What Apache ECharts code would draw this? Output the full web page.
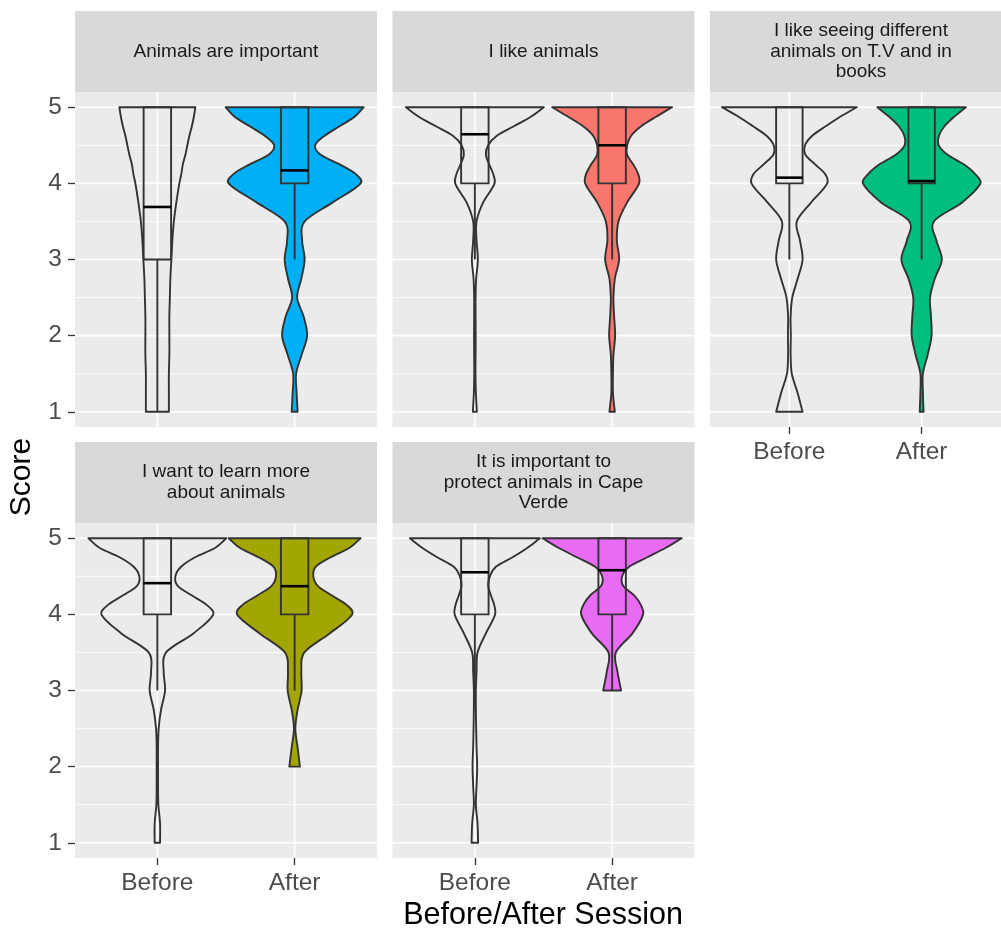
<!DOCTYPE html>
<html><head><meta charset="utf-8">
<script src="https://cdn.jsdelivr.net/npm/echarts@6/dist/echarts.min.js"></script>
<style>html,body{margin:0;padding:0;background:#fff}#c{width:1001px;height:931px}</style>
</head><body><div id="c"></div>
<script>
// ---------------- data ----------------
const categories = ['Before', 'After'];
const panelTitles = [
  'Animals are important',
  'I like animals',
  'I like seeing different\nanimals on T.V and in\nbooks',
  'I want to learn more\nabout animals',
  'It is important to\nprotect animals in Cape\nVerde'
];
const afterColors = ['#00B0F6', '#F8766D', '#00BF7D', '#A3A500', '#E76BF3'];
const yTicks = [1, 2, 3, 4, 5];
const yMinorGrid = [1.5, 2.5, 3.5, 4.5];

// score levels at which the violin density (half-width) was read
const scoreLevels = [1, 1.25, 1.5, 1.75, 2, 2.25, 2.5, 2.75, 3, 3.25, 3.5, 3.75, 4, 4.125, 4.25, 4.375, 4.5, 4.625, 4.75, 4.875, 5];

// violin densities (relative units) per level, null = outside data range
const densImportantBefore = [11.5, 11.5, 11.5, 12, 12, 12, 12.5, 13, 14, 15, 16.5, 19, 22, 24, 25.5, 28, 30, 32, 34.5, 36.5, 38];
const densImportantAfter  = [3, 2, 1.5, 7, 12.5, 9, 2.5, 6.7, 10, 7.5, 10, 38, 66, 61, 45, 26, 20.5, 30, 45, 60, 69];
const densLikeBefore      = [2, 1, 0.6, 0.7, 0.8, 0.7, 0.7, 1.3, 3, 1.7, 1.7, 8.3, 19.7, 18.3, 14.3, 11, 13.3, 22, 39, 56, 69];
const densLikeAfter       = [2.7, 0.8, 0.8, 1.3, 3, 2, 1.3, 2.7, 7, 4.7, 6.3, 15, 27, 26, 21, 15, 15, 19, 29, 44, 60];
const densSeeingBefore    = [13.7, 8.5, 2.5, 1.3, 1.5, 1.3, 3, 8.7, 13.7, 11, 7.7, 22.7, 39.3, 37, 26.7, 16.7, 16.3, 23.7, 37.7, 52.7, 70];
const densSeeingAfter     = [2, 1.3, 1.3, 6.3, 10.3, 9.7, 8.7, 13.7, 21, 15.3, 12.7, 42, 61, 55.3, 43.7, 27, 17.7, 18, 23.7, 33.7, 46];
const densLearnBefore     = [2.7, 2.7, 1, 0.7, 0.7, 0.7, 1.3, 3.7, 7.7, 6.3, 8.7, 36, 56, 49.3, 34.3, 20.3, 18, 23.7, 37.7, 58, 69];
const densLearnAfter      = [null, null, null, null, 5.3, 3, 0.7, 3, 7, 6.7, 9.7, 35, 57.7, 52, 37, 23, 18.7, 21, 36, 55, 66];
const densProtectBefore   = [3.3, 2.7, 1, 1.7, 2.3, 1.7, 1.3, 1, 1, 1.7, 2.7, 11, 20.3, 19.3, 16, 13.3, 15, 21, 37.7, 52.7, 65];
const densProtectAfter    = [null, null, null, null, null, null, null, null, 9, 5.3, 3.7, 20.3, 31, 28.7, 22, 11, 10, 17, 35.3, 53.7, 69.7];

const violinDensity = [
  [densImportantBefore, densImportantAfter],
  [densLikeBefore, densLikeAfter],
  [densSeeingBefore, densSeeingAfter],
  [densLearnBefore, densLearnAfter],
  [densProtectBefore, densProtectAfter]
];

// boxplot statistics [Before, After] per panel
const whiskerLow  = [[1, 3], [3, 3], [3, 3], [3, 3], [3, 3]];
const boxLower    = [[3, 4], [4, 4], [4, 4], [4, 4], [4, 4]];
const boxUpper    = [[5, 5], [5, 5], [5, 5], [5, 5], [5, 5]];
const whiskerHigh = [[5, 5], [5, 5], [5, 5], [5, 5], [5, 5]];
const meanScore   = [[3.69, 4.17], [4.645, 4.5], [4.075, 4.03], [4.41, 4.37], [4.553, 4.58]];

// ---------------- layout / style ----------------
const FONT = '"Liberation Sans", Arial, Helvetica, sans-serif';
const PANEL_W = 302, PANEL_H = 335, STRIP_H = 81;
const panelPos = [
  { left: 75, top: 92 }, { left: 392.5, top: 92 }, { left: 710, top: 92 },
  { left: 75, top: 523 }, { left: 392.5, top: 523 }
];
const showYAxis = [true, false, false, true, false];
const showXAxis = [false, false, true, true, true];
const DENS_TO_X = 1 / 137.3;   // violin width scaling
const BOX_HALF = 0.1;
const OUTLINE = '#333333';
const LW = 1.9;

const xPositions = categories.map((c, i) => i + 1);

function hermitePath(pts, ts, start) {
  let d = (start ? 'M' : 'L') + pts[0][0].toFixed(2) + ',' + pts[0][1].toFixed(2);
  const n = pts.length;
  const tan = pts.map((p, i) => {
    const a = i > 0 ? i - 1 : i, b = i < n - 1 ? i + 1 : i;
    const dt = ts[b] - ts[a] || 1;
    return [(pts[b][0] - pts[a][0]) / dt, (pts[b][1] - pts[a][1]) / dt];
  });
  for (let i = 0; i < n - 1; i++) {
    const h = ts[i + 1] - ts[i];
    const c1 = [pts[i][0] + tan[i][0] * h / 3, pts[i][1] + tan[i][1] * h / 3];
    const c2 = [pts[i + 1][0] - tan[i + 1][0] * h / 3, pts[i + 1][1] - tan[i + 1][1] * h / 3];
    d += ' C' + c1[0].toFixed(2) + ',' + c1[1].toFixed(2) + ' ' + c2[0].toFixed(2) + ',' + c2[1].toFixed(2) + ' ' + pts[i + 1][0].toFixed(2) + ',' + pts[i + 1][1].toFixed(2);
  }
  return d;
}

function makeViolinRender(p) {
  return function (params, api) {
    const g = params.dataIndex;
    const xc = api.value(0);
    const dens = violinDensity[p][g];
    const levels = [], right = [], left = [];
    scoreLevels.forEach((s, i) => {
      if (dens[i] == null) return;
      const hw = dens[i] * DENS_TO_X;
      levels.push(s);
      right.push(api.coord([xc + hw, s]));
      left.push(api.coord([xc - hw, s]));
    });
    let d = hermitePath(right, levels, true);
    d += ' ' + hermitePath(left.slice().reverse(), levels.slice().reverse(), false) + ' Z';
    const fill = g === 0 ? 'rgba(0,0,0,0)' : afterColors[p];
    const wl = api.value(1), q1 = api.value(2), mean = api.value(3), q3 = api.value(4), wh = api.value(5);
    const bTL = api.coord([xc - BOX_HALF, q3]);
    const bBR = api.coord([xc + BOX_HALF, q1]);
    const cLow = api.coord([xc, wl]);
    const cQ1 = api.coord([xc, q1]);
    const cQ3 = api.coord([xc, q3]);
    const cHigh = api.coord([xc, wh]);
    const mL = api.coord([xc - BOX_HALF, mean]);
    const mR = api.coord([xc + BOX_HALF, mean]);
    const children = [
      { type: 'path', shape: { pathData: d }, style: { fill: fill, stroke: OUTLINE, lineWidth: LW, lineJoin: 'round' } },
      { type: 'line', shape: { x1: cLow[0], y1: cLow[1], x2: cQ1[0], y2: cQ1[1] }, style: { stroke: OUTLINE, lineWidth: LW } },
      { type: 'line', shape: { x1: cQ3[0], y1: cQ3[1], x2: cHigh[0], y2: cHigh[1] }, style: { stroke: OUTLINE, lineWidth: LW } },
      { type: 'rect', shape: { x: bTL[0], y: bTL[1], width: bBR[0] - bTL[0], height: bBR[1] - bTL[1] }, style: { fill: 'rgba(0,0,0,0)', stroke: OUTLINE, lineWidth: LW } },
      { type: 'line', shape: { x1: mL[0], y1: mL[1], x2: mR[0], y2: mR[1] }, style: { stroke: '#000000', lineWidth: 2.6 } }
    ];
    return { type: 'group', children: children };
  };
}

const gridSpecs = [
  ...yTicks.map(v => ({ dir: 'h', v: v, w: 1.6 })),
  ...yMinorGrid.map(v => ({ dir: 'h', v: v, w: 0.8 })),
  ...xPositions.map(v => ({ dir: 'v', v: v, w: 1.6 }))
];
function gridRender(params, api) {
  const s = gridSpecs[params.dataIndex];
  const cs = params.coordSys;
  if (s.dir === 'h') {
    const y = api.coord([1.5, s.v])[1];
    return { type: 'line', shape: { x1: cs.x, y1: y, x2: cs.x + cs.width, y2: y }, style: { stroke: '#FFFFFF', lineWidth: s.w } };
  }
  const x = api.coord([s.v, 3])[0];
  return { type: 'line', shape: { x1: x, y1: cs.y, x2: x, y2: cs.y + cs.height }, style: { stroke: '#FFFFFF', lineWidth: s.w } };
}

const grids = [], xAxes = [], yAxes = [], series = [], graphics = [];
panelPos.forEach((pp, p) => {
  grids.push({ left: pp.left, top: pp.top, width: PANEL_W, height: PANEL_H, show: true, backgroundColor: '#EBEBEB', borderWidth: 0, containLabel: false });
  xAxes.push({
    gridIndex: p, type: 'value', min: 0.4, max: 2.6,
    axisLine: { show: false }, splitLine: { show: false },
    axisTick: { show: showXAxis[p], customValues: xPositions, length: 7, lineStyle: { color: OUTLINE, width: 1.3 } },
    axisLabel: { show: showXAxis[p], customValues: xPositions, formatter: v => categories[Math.round(v) - 1] || '', color: '#4D4D4D', fontSize: 24.5, fontFamily: FONT, margin: 13 }
  });
  yAxes.push({
    gridIndex: p, type: 'value', min: 0.8, max: 5.2,
    axisLine: { show: false }, splitLine: { show: false },
    axisTick: { show: showYAxis[p], customValues: yTicks, length: 7, lineStyle: { color: OUTLINE, width: 1.3 } },
    axisLabel: { show: showYAxis[p], customValues: yTicks, color: '#4D4D4D', fontSize: 24.5, fontFamily: FONT, margin: 13 }
  });
  series.push({
    type: 'custom', xAxisIndex: p, yAxisIndex: p, z: 1, silent: true,
    renderItem: gridRender,
    data: gridSpecs.map(s => s.dir === 'h' ? [1.5, s.v] : [s.v, 3]),
    encode: { x: 0, y: 1 }
  });
  series.push({
    type: 'custom', xAxisIndex: p, yAxisIndex: p, z: 3, silent: true,
    renderItem: makeViolinRender(p),
    data: categories.map((c, i) => [xPositions[i], whiskerLow[p][i], boxLower[p][i], meanScore[p][i], boxUpper[p][i], whiskerHigh[p][i]]),
    encode: { x: 0, y: [1, 2, 3, 4, 5] }
  });
  graphics.push({
    type: 'rect', left: pp.left, top: pp.top - STRIP_H, z: 5,
    shape: { width: PANEL_W, height: STRIP_H }, style: { fill: '#D9D9D9' }, silent: true
  });
  graphics.push({
    type: 'text', x: pp.left + PANEL_W / 2, y: pp.top - STRIP_H / 2, z: 6, silent: true,
    style: { text: panelTitles[p], fill: '#1A1A1A', font: '19px ' + FONT, align: 'center', verticalAlign: 'middle', lineHeight: 20.5 }
  });
});

graphics.push({
  type: 'text', x: 22, y: 477, rotation: Math.PI / 2, z: 6, silent: true,
  style: { text: 'Score', fill: '#000000', font: '30px ' + FONT, align: 'center', verticalAlign: 'middle' }
});
graphics.push({
  type: 'text', x: 543, y: 916, z: 6, silent: true,
  style: { text: 'Before/After Session', fill: '#000000', font: '30.5px ' + FONT, align: 'center', verticalAlign: 'middle' }
});

const chart = echarts.init(document.getElementById('c'), null, { renderer: 'canvas' });
chart.setOption({
  animation: false,
  backgroundColor: '#FFFFFF',
  grid: grids,
  xAxis: xAxes,
  yAxis: yAxes,
  series: series,
  graphic: graphics
});
</script>
</body></html>
